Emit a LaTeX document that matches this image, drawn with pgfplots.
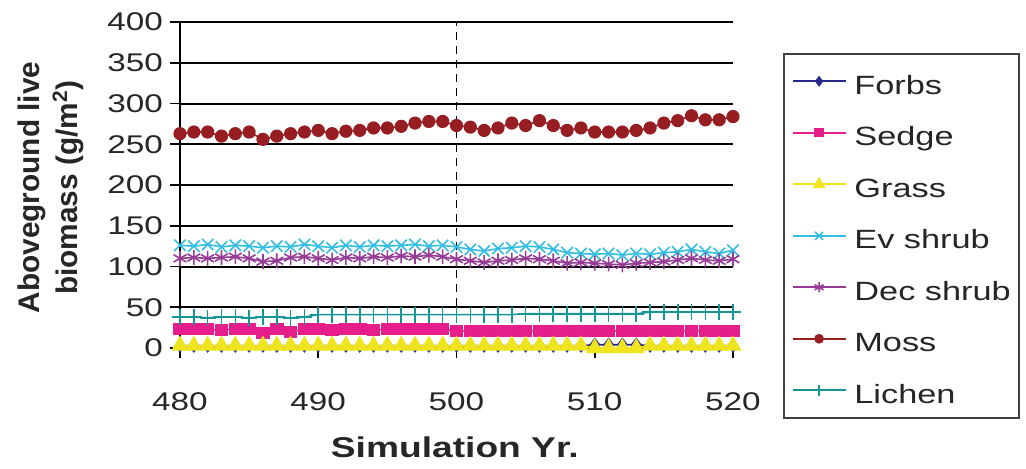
\documentclass[border=0pt]{standalone}
\usepackage{fontspec}
\setmainfont{Liberation Sans}[FakeStretch=1.3]
\newfontfamily\plainfont{Liberation Sans}
\usepackage{pgfplots}
\usepackage{pgfplotstable}
\pgfplotsset{compat=1.18}

\definecolor{cforbs}{RGB}{40,40,140}
\definecolor{csedge}{RGB}{230,30,140}
\definecolor{cgrass}{RGB}{240,228,30}
\definecolor{cev}{RGB}{50,190,225}
\definecolor{cdec}{RGB}{150,60,150}
\definecolor{cmoss}{RGB}{150,30,35}
\definecolor{clichen}{RGB}{20,150,150}

% Simulated aboveground live biomass (g/m^2) by plant functional type
\pgfplotstableread{
yr  forbs sedge grass ev  dec moss lichen
480 3 23 3 126 110 263 38
481 3 23 3 125 111 265 38
482 3 23 3 127 110 265 37
483 3 22 3 124 111 260 38
484 3 23 3 126 112 263 38
485 3 23 3 125 110 265 37
486 3 19 3 123 106 256 38
487 3 23 3 125 107 260 38
488 3 20 3 124 111 263 37
489 3 23 3 127 112 265 38
490 3 23 3 125 110 267 41
491 3 22 3 123 108 263 41
492 3 23 3 126 111 266 41
493 3 23 3 124 110 267 41
494 3 22 3 126 112 270 41
495 3 23 3 125 111 270 41
496 3 23 3 126 113 272 41
497 3 23 3 127 112 276 41
498 3 23 3 125 114 278 41
499 3 23 3 126 112 278 41
500 3 21 3 124 109 273 41
501 3 21 3 121 107 271 41
502 3 21 3 119 105 267 41
503 3 21 3 122 107 270 41
504 3 21 3 123 108 276 41
505 3 21 3 125 110 273 42
506 3 21 3 124 109 279 42
507 3 21 3 121 107 273 42
508 3 21 3 117 104 267 42
509 3 21 3 116 105 270 42
510 4 21 0 115 104 265 42
511 4 21 0 116 103 265 42
512 4 21 0 114 102 265 42
513 4 21 0 116 104 267 42
514 3 21 3 115 105 270 44
515 3 21 3 117 106 276 44
516 3 21 3 118 108 279 44
517 3 21 3 121 110 285 44
518 3 21 3 118 108 280 44
519 3 21 3 116 107 280 44
520 3 21 3 120 109 284 44
}\biomass

\begin{document}
\begin{tikzpicture}
\useasboundingbox (0,0) rectangle (513pt,234pt);
\begin{axis}[
  at={(90pt,60pt)}, anchor=south west,
  scale only axis, width=276.5pt, height=163pt,
  xmin=480, xmax=520, ymin=0, ymax=400,
  xtick={480,490,...,520}, ytick={0,50,...,400},
  axis x line*=bottom, axis y line*=left,
  axis line style={black, line width=1pt, -},
  tick align=outside, major tick length=5pt,
  tick style={black, line width=0.8pt},
  ymajorgrids, grid style={black, line width=1pt},
  clip=false,
  /pgf/number format/assume math mode=true,
  /pgf/number format/1000 sep={},
  tick label style={font=\fontsize{12.8}{14}\selectfont, text=black!85},
  xticklabel style={yshift=-14pt},
  xlabel={\fontsize{14.3}{16}\selectfont\bfseries Simulation Yr.},
  xlabel style={at={(axis description cs:0.497,0)}, anchor=center, yshift=-49.5pt, text=black!85},
  ylabel={\plainfont\fontsize{14.9}{19}\selectfont\bfseries
    \begin{tabular}{@{}c@{}}Aboveground live\\biomass (g/m\textsuperscript{2})\end{tabular}},
  ylabel style={at={(axis description cs:-0.2333,0.492)}, anchor=center, rotate=0, text=black!85},
  legend style={at={(axis description cs:1.0904,0.905)}, anchor=north west,
    draw=black!75, line width=0.8pt, fill=white,
    font=\fontsize{13.2}{14}\selectfont, text=black!85,
    inner xsep=4pt, inner ysep=6.25pt, row sep=10.75pt,
    nodes={inner sep=0pt, text height=14pt, text depth=1pt},
    /tikz/every odd column/.append style={column sep=4pt}},
  legend cell align=left,
  legend image code/.code={
    \draw[mark repeat=2, mark phase=2, #1, every mark/.append style={scale=0.7}]
      plot coordinates {(0pt,0pt) (13.25pt,0pt) (26.5pt,0pt)};},
  every axis plot/.append style={line width=0.8pt},
]
\addplot[black, dashed, dash pattern=on 4pt off 3pt, line width=0.8pt, forget plot]
  coordinates {(500,0) (500,400)};
\addplot[cforbs, mark=diamond*, mark size=3pt, mark options={fill=cforbs}]
  table[x=yr, y=forbs] {\biomass};
\addlegendentry{Forbs}
\addplot[csedge, mark=square*, mark size=2.6pt, mark options={fill=csedge, xscale=1.15}]
  table[x=yr, y=sedge] {\biomass};
\addlegendentry{Sedge}
\addplot[cgrass, mark=triangle*, mark size=4.2pt, mark options={fill=cgrass}]
  table[x=yr, y=grass] {\biomass};
\addlegendentry{Grass}
\addplot[cev, mark=x, mark size=4pt]
  table[x=yr, y=ev] {\biomass};
\addlegendentry{Ev shrub}
\addplot[cdec, mark=asterisk, mark size=3.7pt]
  table[x=yr, y=dec] {\biomass};
\addlegendentry{Dec shrub}
\addplot[cmoss, mark=*, mark size=2.9pt, mark options={fill=cmoss}]
  table[x=yr, y=moss] {\biomass};
\addlegendentry{Moss}
\addplot[clichen, mark=+, mark size=4pt]
  table[x=yr, y=lichen] {\biomass};
\addlegendentry{Lichen}
\end{axis}
\end{tikzpicture}
\end{document}
